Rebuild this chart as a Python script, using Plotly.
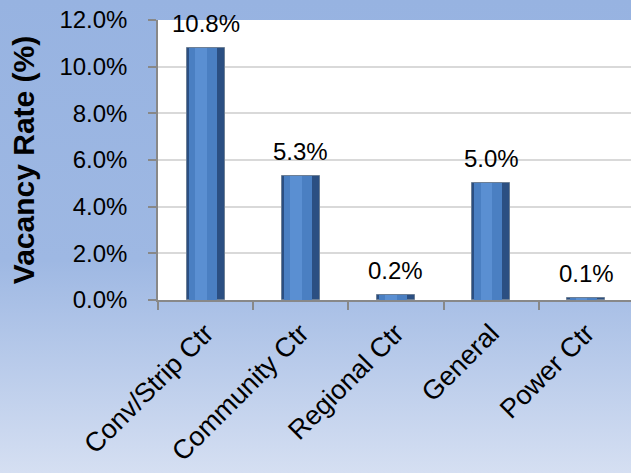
import base64
import plotly.graph_objects as go

categories = ["Conv/Strip Ctr", "Community Ctr", "Regional Ctr", "General", "Power Ctr"]
vacancy = [10.8, 5.3, 0.2, 5.0, 0.1]
y_ticks = [0, 2, 4, 6, 8, 10, 12]
y_tick_labels = [f"{v:.1f}%" for v in y_ticks]
axis_title = "Vacancy Rate (%)"

FONT = "Liberation Sans, Arial, sans-serif"

svg = (
    '<svg xmlns="http://www.w3.org/2000/svg" width="631" height="473" preserveAspectRatio="none">'
    '<defs><linearGradient id="g" x1="0" y1="0" x2="0" y2="1">'
    '<stop offset="0" stop-color="#97b3e1"/>'
    '<stop offset="0.55" stop-color="#9eb8e3"/>'
    '<stop offset="1" stop-color="#d5dff2"/>'
    '</linearGradient></defs>'
    '<rect width="631" height="473" fill="url(#g)"/></svg>'
)
bg_uri = "data:image/svg+xml;base64," + base64.b64encode(svg.encode()).decode()

fig = go.Figure()

# dark outer bar
fig.add_trace(go.Bar(
    x=categories, y=vacancy, width=0.40,
    marker=dict(color="#2b4f82", line=dict(color="#6d7f95", width=1)),
    hoverinfo="skip", showlegend=False,
))
# main body
fig.add_trace(go.Bar(
    x=categories, y=vacancy, width=0.29, offset=-0.175,
    marker=dict(color="#4a7fc2", line=dict(width=0)),
    hoverinfo="skip", showlegend=False,
))
# lighter center strip
fig.add_trace(go.Bar(
    x=categories, y=vacancy, width=0.12, offset=-0.11,
    marker=dict(color="#5a8fd2", line=dict(width=0)),
    hoverinfo="skip", showlegend=False,
))

annotations = [
    dict(x=c, y=v, text=f"{v:.1f}%", showarrow=False, yanchor="bottom",
         yshift=9, font=dict(family=FONT, size=24, color="black"))
    for c, v in zip(categories, vacancy)
]

fig.update_layout(
    width=631, height=473,
    margin=dict(l=158, r=0, t=20, b=173),
    paper_bgcolor="#9ab5e2",
    plot_bgcolor="rgba(0,0,0,0)",
    barmode="overlay",
    bargap=0,
    font=dict(family=FONT, size=24, color="black"),
    annotations=annotations,
    images=[dict(source=bg_uri, xref="paper", yref="paper",
                 x=-158/473, y=1 + 20/280, sizex=631/473, sizey=473/280,
                 xanchor="left", yanchor="top", sizing="stretch", layer="below")],
    shapes=[dict(type="rect", xref="paper", yref="paper", x0=0, x1=1.01, y0=0, y1=1,
                 fillcolor="white", line=dict(width=0), layer="below")],
    xaxis=dict(
        range=[-0.5, 4.47],
        automargin=False,
        tickangle=-45,
        tickfont=dict(family=FONT, size=27, color="black"),
        showline=True, linecolor="#888888", linewidth=1.5,
        ticks="outside", ticklen=8, tickcolor="#888888", tickwidth=1.5,
        tickson="boundaries",
        ticklabelstandoff=5,
        showgrid=False, zeroline=False,
    ),
    yaxis=dict(
        range=[0, 12],
        automargin=False,
        tickvals=y_ticks, ticktext=y_tick_labels,
        tickfont=dict(family=FONT, size=24, color="black"),
        showline=True, linecolor="#888888", linewidth=1.5,
        ticks="outside", ticklen=8, tickcolor="#888888", tickwidth=1.5,
        ticklabelstandoff=16,
        showgrid=True, gridcolor="#d9d9d9", gridwidth=1.5,
        zeroline=False,
        title=dict(text="<b>" + axis_title + "</b>",
                   font=dict(family=FONT, size=30, color="black"), standoff=16),
    ),
)

fig.write_html("out.html")
